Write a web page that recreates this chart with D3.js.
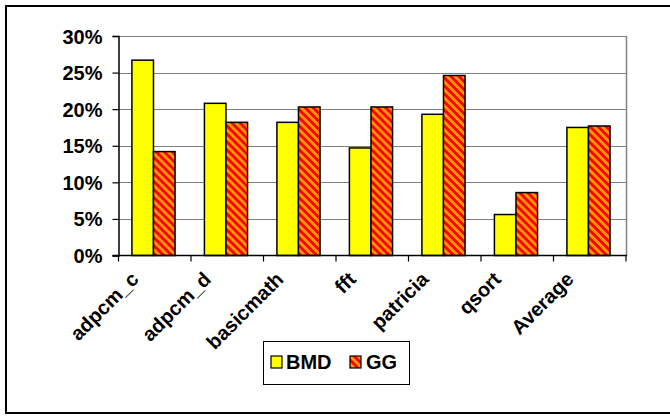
<!DOCTYPE html>
<html>
<head>
<meta charset="utf-8">
<script src="https://cdn.jsdelivr.net/npm/d3@7"></script>
<style>
  html, body { margin: 0; padding: 0; background: #fff; overflow: hidden; }
  svg { display: block; }
  text { font-family: "Liberation Sans", Arial, sans-serif; font-weight: bold; fill: #000; }
</style>
</head>
<body>
<script>
const categories = ["adpcm_c", "adpcm_d", "basicmath", "fft", "patricia", "qsort", "Average"];
const seriesNames = ["BMD", "GG"];
const bmdValues = [26.7, 20.8, 18.2, 14.7, 19.3, 5.6, 17.5];
const ggValues  = [14.2, 18.2, 20.3, 20.3, 24.6, 8.6, 17.7];
const yTickValues = [0, 5, 10, 15, 20, 25, 30];
const yTickLabels = ["0%", "5%", "10%", "15%", "20%", "25%", "30%"];

const W = 670, H = 416;
const plot = { left: 118.5, right: 626, top: 36, bottom: 255.5 };

const svg = d3.select("body").append("svg").attr("width", W).attr("height", H);

const defs = svg.append("defs");
const pSize = 5.66;
const pat = defs.append("pattern")
  .attr("id", "ggPattern")
  .attr("patternUnits", "userSpaceOnUse")
  .attr("width", pSize).attr("height", pSize)
  .attr("patternTransform", "rotate(-45)");
pat.append("rect").attr("width", pSize).attr("height", pSize).attr("fill", "#FF0000");
pat.append("rect").attr("width", pSize / 2).attr("height", pSize).attr("fill", "#FF9900");

// outer frame (left, top, bottom; right edge lies outside the window)
svg.append("path")
  .attr("d", `M${W},6 H6 V413 H${W}`)
  .attr("fill", "none").attr("stroke", "#000").attr("stroke-width", 2);

const x0 = d3.scaleBand().domain(categories).range([plot.left, plot.right]).padding(0);
const x1 = d3.scaleBand().domain(seriesNames)
  .range([x0.bandwidth() * 0.185, x0.bandwidth() * 0.78]).padding(0);
const y = d3.scaleLinear().domain([0, 30]).range([plot.bottom, plot.top]);

// gridlines
svg.append("g").selectAll("line").data(yTickValues.filter(v => v > 0)).join("line")
  .attr("x1", plot.left).attr("x2", plot.right)
  .attr("y1", d => Math.round(y(d)) + 0.5).attr("y2", d => Math.round(y(d)) + 0.5)
  .attr("stroke", "#808080").attr("stroke-width", 1);

// right border of plot
svg.append("line")
  .attr("x1", plot.right + 0.5).attr("x2", plot.right + 0.5)
  .attr("y1", plot.top).attr("y2", plot.bottom)
  .attr("stroke", "#808080").attr("stroke-width", 1.5);

// bars
const data = categories.map((c, i) => ({ cat: c, values: [bmdValues[i], ggValues[i]] }));
const fills = { BMD: "#FFFF00", GG: "url(#ggPattern)" };
const groups = svg.append("g").selectAll("g").data(data).join("g")
  .attr("transform", d => `translate(${x0(d.cat)},0)`);
groups.selectAll("rect")
  .data(d => seriesNames.map((s, k) => ({ s, v: d.values[k] })))
  .join("rect")
  .attr("x", d => x1(d.s))
  .attr("width", x1.bandwidth())
  .attr("y", d => y(d.v))
  .attr("height", d => y(0) - y(d.v))
  .attr("fill", d => fills[d.s])
  .attr("stroke", "#000").attr("stroke-width", 1.5);

// y axis
const yAxis = d3.axisLeft(y).tickValues(yTickValues)
  .tickFormat((d, i) => yTickLabels[i]).tickSize(6).tickPadding(10);
const gy = svg.append("g").attr("transform", `translate(${plot.left},0)`).call(yAxis);
gy.select(".domain").attr("stroke", "#000").attr("stroke-width", 1.5);
gy.selectAll(".tick line").attr("stroke", "#000").attr("stroke-width", 1.2);
gy.selectAll(".tick text").style("font-size", "20px").attr("dy", "0.35em");

// x axis line and ticks at band edges
svg.append("line")
  .attr("x1", plot.left - 6).attr("x2", plot.right + 1)
  .attr("y1", plot.bottom).attr("y2", plot.bottom)
  .attr("stroke", "#000").attr("stroke-width", 1.5);
const edges = categories.map(c => x0(c)).concat([x0(categories[categories.length - 1]) + x0.bandwidth()]);
svg.append("g").selectAll("line").data(edges).join("line")
  .attr("x1", d => d).attr("x2", d => d)
  .attr("y1", plot.bottom).attr("y2", plot.bottom + 6)
  .attr("stroke", "#000").attr("stroke-width", 1.2);

// x labels rotated 45 degrees
svg.append("g").selectAll("text").data(categories).join("text")
  .attr("transform", d => `translate(${x0(d) + x0.bandwidth() / 2 - 15},${plot.bottom + 25}) rotate(-45)`)
  .attr("text-anchor", "end")
  .style("font-size", "20px")
  .text(d => d);

// legend
const lg = svg.append("g");
lg.append("rect")
  .attr("x", 263.5).attr("y", 341.5).attr("width", 146).attr("height", 43)
  .attr("fill", "#fff").attr("stroke", "#000").attr("stroke-width", 1);
const legendItems = [
  { name: seriesNames[0], sx: 271, tx: 286 },
  { name: seriesNames[1], sx: 350, tx: 366 }
];
legendItems.forEach(it => {
  lg.append("rect")
    .attr("x", it.sx).attr("y", 356).attr("width", 11).attr("height", 12)
    .attr("fill", fills[it.name]).attr("stroke", "#000").attr("stroke-width", 1.2);
  lg.append("text")
    .attr("x", it.tx).attr("y", 369)
    .style("font-size", "20px")
    .text(it.name);
});
</script>
</body>
</html>
